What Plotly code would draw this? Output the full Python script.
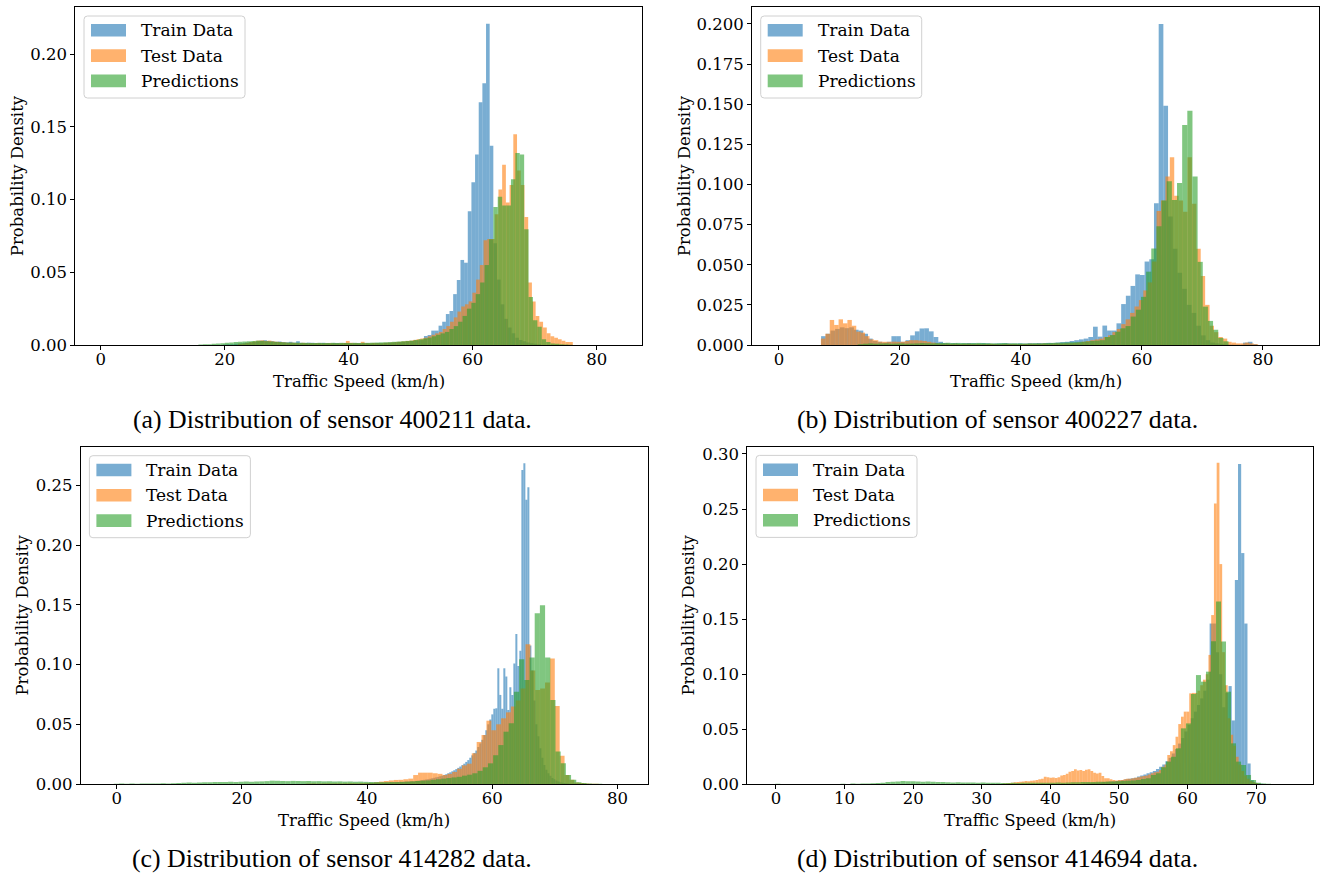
import plotly.graph_objects as go

W, H = 1324, 876
FONT = "DejaVu Serif"
CAP_FONT = "Liberation Serif"

SERIES_NAMES = ["Train Data", "Test Data", "Predictions"]
SERIES_RGB = [(31, 119, 180), (255, 127, 14), (44, 160, 44)]
ALPHA = 0.6

CAPTIONS = [
    "(a) Distribution of sensor 400211 data.",
    "(b) Distribution of sensor 400227 data.",
    "(c) Distribution of sensor 414282 data.",
    "(d) Distribution of sensor 414694 data.",
]

# ---------------- (a) sensor 400211 ----------------
A_TRAIN_START, A_TRAIN_WIDTH = 19.742, 0.589
A_TRAIN = [0.0003, 0.0005, 0.0006, 0.0008, 0.001, 0.0012, 0.0015, 0.0018, 0.002,
           0.0025, 0.003, 0.0033, 0.0028, 0.0026, 0.0022, 0.0024, 0.002, 0.0018, 0.0022, 0.0016, 0.0026,
           0.0015, 0.0014, 0.0016, 0.0015, 0.0013, 0.0014, 0.0015, 0.0013, 0.0012, 0.0014, 0.0013, 0.0012, 0.0014, 0.0013, 0.0012, 0.0013,
           0.0012, 0.0013, 0.0012, 0.0011, 0.0012, 0.0013, 0.0012, 0.0014, 0.0015, 0.0016, 0.0018, 0.002, 0.0022, 0.0025, 0.0028, 0.003, 0.0032,
           0.0034, 0.0062, 0.0069, 0.0099, 0.0099, 0.0133, 0.016, 0.0213, 0.0234, 0.035, 0.0447, 0.0585, 0.0566, 0.092, 0.112, 0.131, 0.167, 0.180, 0.221,
           0.137, 0.07, 0.045, 0.028, 0.018, 0.012, 0.008, 0.005, 0.0035, 0.0025, 0.0018, 0.0012, 0.0008, 0.0005]
A_TEST_START, A_TEST_WIDTH = 22.15, 0.6
A_TEST = [0.0008, 0.001, 0.0015, 0.002, 0.0025, 0.003, 0.0032, 0.0028, 0.003, 0.0025,
          0.0022, 0.002, 0.0018, 0.0015, 0.0016, 0.0014, 0.0013, 0.0015, 0.0012, 0.0013,
          0.0012, 0.0013, 0.0011, 0.0012, 0.0013, 0.0012, 0.0011, 0.0012, 0.0014, 0.0028,
          0.0015, 0.0013, 0.0012, 0.0022, 0.0013, 0.0012, 0.0014, 0.0013, 0.0012, 0.0015,
          0.0016, 0.0018, 0.002, 0.0022, 0.0025, 0.0028, 0.003, 0.0035, 0.004, 0.0045,
          0.005, 0.006, 0.007, 0.008, 0.009, 0.011, 0.013, 0.016, 0.019, 0.023,
          0.0265, 0.028, 0.030, 0.036, 0.045, 0.055, 0.072, 0.073, 0.073, 0.09,
          0.107, 0.124, 0.098, 0.11, 0.145, 0.12, 0.11, 0.088, 0.043, 0.03,
          0.02, 0.016, 0.012, 0.008, 0.006, 0.005, 0.004, 0.003, 0.002, 0.002]
A_PRED_START, A_PRED_WIDTH = 15.76, 0.71
A_PRED = [0.0003, 0.0005, 0.0006, 0.0008, 0.001, 0.0012, 0.0015, 0.0018, 0.002, 0.0022,
          0.0024, 0.0026, 0.0028, 0.003, 0.0028, 0.0026, 0.0024, 0.0022, 0.002, 0.0018,
          0.0017, 0.0016, 0.0016, 0.0015, 0.0015, 0.0014, 0.0014, 0.0015, 0.0014, 0.0014,
          0.0015, 0.0014, 0.0015, 0.0014, 0.0014, 0.0015, 0.0014, 0.0015, 0.0015, 0.0016,
          0.0017, 0.0018, 0.0019, 0.002, 0.0022, 0.0024, 0.0026, 0.0028,
          0.003, 0.0035, 0.004, 0.0045, 0.005, 0.006, 0.007, 0.008, 0.009, 0.011, 0.013, 0.016, 0.02, 0.025, 0.029, 0.035,
          0.043, 0.055, 0.0727, 0.095, 0.102, 0.096, 0.096, 0.114, 0.132, 0.131, 0.0796, 0.033, 0.017, 0.0125, 0.004, 0.002,
          0.001, 0.0008, 0.0005, 0.0003, 0.0002]

# ---------------- (b) sensor 400227 ----------------
B_TRAIN_START, B_TRAIN_WIDTH = 6.96, 0.775
B_TRAIN = [0.0055, 0.007, 0.009, 0.01, 0.011, 0.0105, 0.011, 0.0095, 0.009, 0.007, 0.004, 0.0025, 0.002,
           0.0015, 0.002, 0.0055, 0.0055, 0.002, 0.003, 0.006, 0.0085, 0.0103, 0.0104, 0.0085, 0.005, 0.002,
           0.0012, 0.001, 0.0011, 0.0009, 0.001, 0.0012, 0.001, 0.0009, 0.0011, 0.001, 0.0008, 0.0009, 0.001, 0.0011, 0.0009,
           0.0008, 0.001, 0.0009, 0.0011, 0.001, 0.0012, 0.0011, 0.0013, 0.0012, 0.0015, 0.0018, 0.002, 0.0025, 0.003, 0.0035,
           0.004, 0.005, 0.0114, 0.0052, 0.0121, 0.009, 0.009, 0.0135, 0.0255, 0.0307, 0.0368, 0.044, 0.0436, 0.052, 0.0534,
           0.0883, 0.200, 0.149,
           0.08, 0.06, 0.045, 0.035, 0.025, 0.02, 0.012, 0.006, 0.003, 0.0015, 0.001, 0.0005, 0.0003, 0.0003, 0.0002,
           0.0002, 0.0015, 0.002, 0.0005]
B_TEST_START, B_TEST_WIDTH = 6.93, 0.73
B_TEST = [0.004, 0.007, 0.0156, 0.0125, 0.016, 0.0135, 0.0156, 0.012, 0.0083, 0.0077, 0.0055, 0.0035, 0.003, 0.0021,
          0.002, 0.002, 0.0021, 0.002, 0.002,
          0.0025, 0.003, 0.003, 0.0028, 0.0025, 0.002, 0.0015,
          0.001, 0.0008, 0.0009, 0.0007, 0.0008, 0.0006, 0.0007, 0.0008, 0.0006, 0.0007, 0.0005, 0.0006, 0.0007, 0.0006,
          0.0005, 0.0006, 0.0007, 0.0006, 0.0005, 0.0006, 0.0007, 0.0008, 0.0007, 0.0008, 0.0009, 0.0008, 0.0009, 0.001,
          0.0009, 0.001, 0.0011, 0.0012,
          0.0015, 0.002, 0.0025, 0.003, 0.0035, 0.004, 0.005, 0.006, 0.008, 0.01, 0.013, 0.016, 0.02, 0.024, 0.028, 0.034,
          0.039, 0.052, 0.0835, 0.09, 0.105, 0.117, 0.093, 0.09, 0.083, 0.117, 0.088, 0.06, 0.043, 0.025, 0.012, 0.008,
          0.005, 0.004, 0.002, 0.0015, 0.001, 0.001, 0.0015, 0.001, 0.0005]
B_PRED_START, B_PRED_WIDTH = 13.03, 0.851
B_PRED = [0.0005, 0.0008, 0.001, 0.0008, 0.0009, 0.001, 0.0008, 0.0009, 0.001, 0.0008, 0.0009, 0.001, 0.0012, 0.0011,
          0.001, 0.0012, 0.0013,
          0.0014, 0.0012, 0.0013, 0.0012, 0.0011, 0.0012, 0.0013, 0.0012, 0.0011, 0.001, 0.0011, 0.0012, 0.001, 0.0011,
          0.001, 0.0009, 0.001, 0.0011, 0.001, 0.0012, 0.0013, 0.0014, 0.0015, 0.0016,
          0.0017, 0.0018, 0.002, 0.0022, 0.0025, 0.0027,
          0.003, 0.005, 0.0062, 0.0083, 0.0104, 0.0118, 0.0177, 0.022, 0.030, 0.0457, 0.0602, 0.074, 0.09, 0.102,
          0.0904, 0.101, 0.137, 0.146, 0.105, 0.0518, 0.0239, 0.015, 0.0095, 0.0044, 0.0023]

# ---------------- (c) sensor 414282 ----------------
C_TRAIN_START, C_TRAIN_WIDTH = 40.0, 0.32
C_TRAIN = [0.0008, 0.001, 0.0009, 0.0011, 0.001, 0.0012, 0.0011, 0.0013, 0.0012, 0.0014, 0.0013, 0.0015, 0.0014,
           0.0016, 0.0015, 0.0017, 0.0018, 0.0017, 0.0019, 0.002,
           0.0021, 0.0022, 0.0024, 0.0023, 0.0026, 0.0028, 0.003, 0.0032, 0.0035, 0.0038, 0.004, 0.0044, 0.0048,
           0.0052, 0.0056, 0.006, 0.0065, 0.007, 0.0076, 0.0082,
           0.009, 0.0098, 0.0106, 0.0115, 0.0125, 0.0135, 0.0146, 0.0158, 0.017, 0.0185, 0.02, 0.022, 0.024, 0.026,
           0.028, 0.031, 0.034, 0.037, 0.041, 0.045, 0.05, 0.054,
           0.0583, 0.063, 0.0634, 0.0969, 0.0746, 0.063, 0.0969, 0.09, 0.062, 0.081, 0.0746, 0.101, 0.1256, 0.0988,
           0.1116, 0.263, 0.2686, 0.238, 0.2485, 0.116,
           0.095, 0.07, 0.05, 0.04, 0.03, 0.022, 0.016, 0.012, 0.009, 0.007, 0.005, 0.004, 0.003, 0.002, 0.0015,
           0.001, 0.0008, 0.0006, 0.0004, 0.0003, 0.0003, 0.0002, 0.0002, 0.0001]
C_TEST_START, C_TEST_WIDTH = 30.2, 0.78
C_TEST = [0.0004, 0.0005, 0.0004, 0.0005, 0.0006, 0.0005, 0.0006, 0.0005, 0.0006, 0.0007, 0.0006, 0.0008, 0.0009,
          0.001, 0.0015, 0.002, 0.0025, 0.003, 0.0034, 0.0035, 0.004, 0.0045,
          0.0075, 0.0095, 0.0095, 0.0095, 0.009, 0.0085, 0.0075, 0.0085, 0.0101, 0.0128, 0.0156, 0.017, 0.0257,
          0.0352, 0.041, 0.053,
          0.045, 0.05, 0.055, 0.06, 0.065, 0.07, 0.08, 0.117, 0.095, 0.0787, 0.08, 0.085,
          0.105, 0.0653, 0.0237, 0.0075, 0.0036, 0.0013, 0.0008, 0.0005, 0.0003, 0.0002]
C_PRED_START, C_PRED_WIDTH = -0.46, 0.83
C_PRED = [0.0003, 0.0004, 0.0003, 0.0004, 0.0003, 0.0004, 0.0005, 0.0004, 0.0005, 0.0006, 0.0005, 0.0006, 0.0008,
          0.001, 0.0012, 0.0011, 0.0013, 0.0015, 0.0014, 0.0016, 0.0017, 0.0016, 0.0018, 0.0017, 0.0019, 0.002,
          0.0019, 0.0021, 0.0022, 0.0024,
          0.0028, 0.0027, 0.0025, 0.0024, 0.0026, 0.0025, 0.0024, 0.0025, 0.0023, 0.0024, 0.0022, 0.0023, 0.0021,
          0.0022, 0.002, 0.0021, 0.0019, 0.002, 0.0018, 0.0017, 0.0016, 0.0015, 0.0015, 0.0016,
          0.0016, 0.0018, 0.002, 0.0022, 0.0025, 0.0028, 0.003, 0.0035, 0.004, 0.0045, 0.005, 0.0055, 0.006, 0.007,
          0.0078, 0.009, 0.011, 0.014, 0.0173, 0.0241, 0.0326, 0.0438, 0.0508, 0.0773, 0.1044, 0.087, 0.106,
          0.143, 0.1496, 0.106, 0.0703, 0.0273, 0.0173, 0.0075, 0.0036, 0.0015, 0.0008, 0.0005, 0.0003, 0.0002]

# ---------------- (d) sensor 414694 ----------------
D_TRAIN_START, D_TRAIN_WIDTH = 44.81, 0.46
D_TRAIN = [0.0008, 0.001, 0.0012, 0.0013, 0.0015, 0.0017, 0.002, 0.0022, 0.0025, 0.0028, 0.003, 0.0035, 0.004,
           0.0045, 0.005, 0.0055, 0.006, 0.007, 0.008, 0.009,
           0.01, 0.011, 0.012, 0.014, 0.016, 0.018, 0.021, 0.024, 0.028, 0.032, 0.037, 0.042, 0.048, 0.054, 0.06, 0.066,
           0.072, 0.078, 0.085, 0.095, 0.146, 0.146, 0.12, 0.1, 0.07, 0.083, 0.0892, 0.058, 0.1856, 0.291, 0.21,
           0.146, 0.019, 0.0036,
           0.0015, 0.0008, 0.0005, 0.0003, 0.0002]
D_TEST_START, D_TEST_WIDTH = 33.04, 0.4
D_TEST = [0.0008, 0.001, 0.0012, 0.0015, 0.0018, 0.002, 0.0024,
          0.0025, 0.003, 0.0028, 0.0032, 0.0035, 0.004, 0.0045,
          0.005, 0.0069, 0.0065, 0.006, 0.0062, 0.0058,
          0.0065, 0.008, 0.0085, 0.0095, 0.0115,
          0.012, 0.0136, 0.0125, 0.013, 0.012, 0.0132,
          0.0136, 0.012, 0.0105, 0.0098, 0.0105, 0.0075,
          0.0055, 0.0054, 0.0045, 0.004, 0.0035, 0.0038, 0.004, 0.0045,
          0.005, 0.005, 0.0055, 0.006, 0.0065, 0.007, 0.0075, 0.008, 0.009, 0.01, 0.011, 0.0115, 0.013, 0.016, 0.018,
          0.0266, 0.03, 0.0356, 0.0432, 0.0547, 0.0614, 0.066, 0.066, 0.0826, 0.083, 0.083, 0.085, 0.09, 0.095, 0.1,
          0.1175, 0.1537, 0.255, 0.292, 0.2, 0.12, 0.09, 0.06, 0.045, 0.035, 0.025, 0.018, 0.012, 0.008, 0.005,
          0.003, 0.002, 0.0012, 0.0006]
D_PRED_START, D_PRED_WIDTH = -0.1, 0.73
D_PRED = [0.0004, 0.0003, 0.0002, 0.0003, 0.0002, 0.0003, 0.0002, 0.0003, 0.0002, 0.0003, 0.0003, 0.0002, 0.0003,
          0.0004, 0.0003,
          0.0008, 0.0006, 0.0007, 0.0008, 0.001, 0.0012, 0.0015,
          0.002, 0.0024, 0.0026, 0.003, 0.0028, 0.0027, 0.0026, 0.0024, 0.0025, 0.0023, 0.0022, 0.002,
          0.0018, 0.0017, 0.0018, 0.0016, 0.0017, 0.0016, 0.0015, 0.0016, 0.0015, 0.0014, 0.0013, 0.0012, 0.0012,
          0.0013, 0.0012,
          0.0013, 0.0014, 0.0013, 0.0014, 0.0015, 0.0014, 0.0015, 0.0016, 0.0015, 0.0017, 0.0018, 0.0019, 0.002,
          0.0021, 0.0022, 0.0023, 0.0024, 0.0025, 0.0026, 0.0028,
          0.003, 0.0032, 0.0035, 0.004, 0.0048, 0.0055, 0.0085, 0.01, 0.0155, 0.0206, 0.025, 0.0327, 0.0508, 0.0553,
          0.082, 0.0992, 0.0932, 0.1023, 0.13,
          0.166, 0.1298, 0.0841, 0.0372, 0.0206, 0.0175, 0.0085, 0.004, 0.0015, 0.0008, 0.0004]

# ---------------- layout of the four panels (pixel boxes) ----------------
PANELS = [
    dict(series=[(A_TRAIN_START, A_TRAIN_WIDTH, A_TRAIN), (A_TEST_START, A_TEST_WIDTH, A_TEST),
                 (A_PRED_START, A_PRED_WIDTH, A_PRED)],
         box=(75.3, 7.3, 641.7, 345.0), xrange=(-4.10, 87.26), yrange=(0, 0.2323),
         xticks=[0, 20, 40, 60, 80], yticks=[0, 0.05, 0.10, 0.15, 0.20], yfmt=".2f",
         ytitle_x=17, xtitle_y=381, cap_x=332, cap_y=420),
    dict(series=[(B_TRAIN_START, B_TRAIN_WIDTH, B_TRAIN), (B_TEST_START, B_TEST_WIDTH, B_TEST),
                 (B_PRED_START, B_PRED_WIDTH, B_PRED)],
         box=(752.0, 7.3, 1319.0, 345.0), xrange=(-4.46, 89.26), yrange=(0, 0.2104),
         xticks=[0, 20, 40, 60, 80], yticks=[0, 0.025, 0.05, 0.075, 0.10, 0.125, 0.15, 0.175, 0.20], yfmt=".3f",
         ytitle_x=684, xtitle_y=381, cap_x=997, cap_y=420),
    dict(series=[(C_TRAIN_START, C_TRAIN_WIDTH, C_TRAIN), (C_TEST_START, C_TEST_WIDTH, C_TEST),
                 (C_PRED_START, C_PRED_WIDTH, C_PRED)],
         box=(80.7, 447.0, 647.7, 784.0), xrange=(-5.75, 84.82), yrange=(0, 0.2822),
         xticks=[0, 20, 40, 60, 80], yticks=[0, 0.05, 0.10, 0.15, 0.20, 0.25], yfmt=".2f",
         ytitle_x=22, xtitle_y=820, cap_x=332, cap_y=858),
    dict(series=[(D_TRAIN_START, D_TRAIN_WIDTH, D_TRAIN), (D_TEST_START, D_TEST_WIDTH, D_TEST),
                 (D_PRED_START, D_PRED_WIDTH, D_PRED)],
         box=(747.3, 446.7, 1313.0, 784.3), xrange=(-4.18, 78.28), yrange=(0, 0.3066),
         xticks=[0, 10, 20, 30, 40, 50, 60, 70], yticks=[0, 0.05, 0.10, 0.15, 0.20, 0.25, 0.30], yfmt=".2f",
         ytitle_x=688, xtitle_y=820, cap_x=997, cap_y=858),
]


def px(x):
    return x / W


def py(y):
    return 1 - y / H


def rgba(rgb, a):
    return "rgba(%d,%d,%d,%s)" % (rgb[0], rgb[1], rgb[2], a)


fig = go.Figure()
layout = dict(
    width=W, height=H, margin=dict(l=0, r=0, t=0, b=0, autoexpand=False),
    paper_bgcolor="white", plot_bgcolor="white",
    barmode="overlay", showlegend=False,
    font=dict(family=FONT, size=16.5, color="black"),
)
shapes = []
annotations = []

for p_i, P in enumerate(PANELS):
    suffix = "" if p_i == 0 else str(p_i + 1)
    xa, ya = "x" + suffix, "y" + suffix
    L, T, R, B = P["box"]
    for s_i, (start, width, heights) in enumerate(P["series"]):
        centers = [start + width * (k + 0.5) for k in range(len(heights))]
        fig.add_trace(go.Bar(
            x=centers, y=heights, width=width, xaxis=xa, yaxis=ya,
            marker=dict(color=rgba(SERIES_RGB[s_i], ALPHA), line=dict(width=0)),
            name=SERIES_NAMES[s_i], showlegend=False, hoverinfo="skip",
        ))
    axis_common = dict(showgrid=False, zeroline=False, showline=True, linecolor="black", linewidth=1,
                       mirror=True, ticks="outside", ticklen=4, tickwidth=1, tickcolor="black",
                       automargin=False,
                       tickfont=dict(family=FONT, size=16.5, color="black"))
    layout["xaxis" + suffix] = dict(axis_common, domain=[px(L), px(R)], range=list(P["xrange"]),
                                    tickvals=P["xticks"], anchor=ya, ticklabelstandoff=-5)
    layout["yaxis" + suffix] = dict(axis_common, domain=[py(B), py(T)], range=list(P["yrange"]),
                                    tickvals=P["yticks"], tickformat=P["yfmt"], anchor=xa)

    # axis titles
    annotations.append(dict(text="Traffic Speed (km/h)", x=px((L + R) / 2), y=py(P["xtitle_y"]),
                            xref="paper", yref="paper", showarrow=False, xanchor="center", yanchor="middle",
                            font=dict(family=FONT, size=16.5, color="black")))
    annotations.append(dict(text="Probability Density", x=px(P["ytitle_x"]), y=py((T + B) / 2),
                            xref="paper", yref="paper", showarrow=False, xanchor="center", yanchor="middle",
                            textangle=-90, font=dict(family=FONT, size=16.5, color="black")))
    # caption
    annotations.append(dict(text=CAPTIONS[p_i], x=px(P["cap_x"]), y=py(P["cap_y"]),
                            xref="paper", yref="paper", showarrow=False, xanchor="center", yanchor="middle",
                            font=dict(family=CAP_FONT, size=25.8, color="black")))

    # legend box (matplotlib style)
    bx0, by0 = L + 8.7, T + 8.7
    bx1, by1 = bx0 + 161, by0 + 82
    r = 3.5
    path = ("M {a},{b} L {c},{b} Q {R},{b} {R},{d} L {R},{e} Q {R},{f} {c},{f} L {a},{f} "
            "Q {Lx},{f} {Lx},{e} L {Lx},{d} Q {Lx},{b} {a},{b} Z").format(
        a=px(bx0 + r), c=px(bx1 - r), b=py(by0), d=py(by0 + r), e=py(by1 - r), f=py(by1),
        R=px(bx1), Lx=px(bx0))
    shapes.append(dict(type="path", path=path, xref="paper", yref="paper",
                       fillcolor="rgba(255,255,255,0.8)", line=dict(color="#d0d0d0", width=1)))
    for s_i, name in enumerate(SERIES_NAMES):
        cy = by0 + 14.3 + 25.3 * s_i
        shapes.append(dict(type="rect", xref="paper", yref="paper",
                           x0=px(bx0 + 7), x1=px(bx0 + 42), y0=py(cy - 6.3), y1=py(cy + 6.3),
                           fillcolor=rgba(SERIES_RGB[s_i], ALPHA), line=dict(width=0)))
        annotations.append(dict(text=name, x=px(bx0 + 55), y=py(cy), xref="paper", yref="paper",
                                showarrow=False, xanchor="left", yanchor="middle",
                                font=dict(family=FONT, size=17, color="black")))

layout["shapes"] = shapes
layout["annotations"] = annotations
fig.update_layout(**layout)
fig.write_html("out.html", config={"displayModeBar": False},
               post_script="document.body.style.margin='0px';document.body.style.overflow='hidden';")
